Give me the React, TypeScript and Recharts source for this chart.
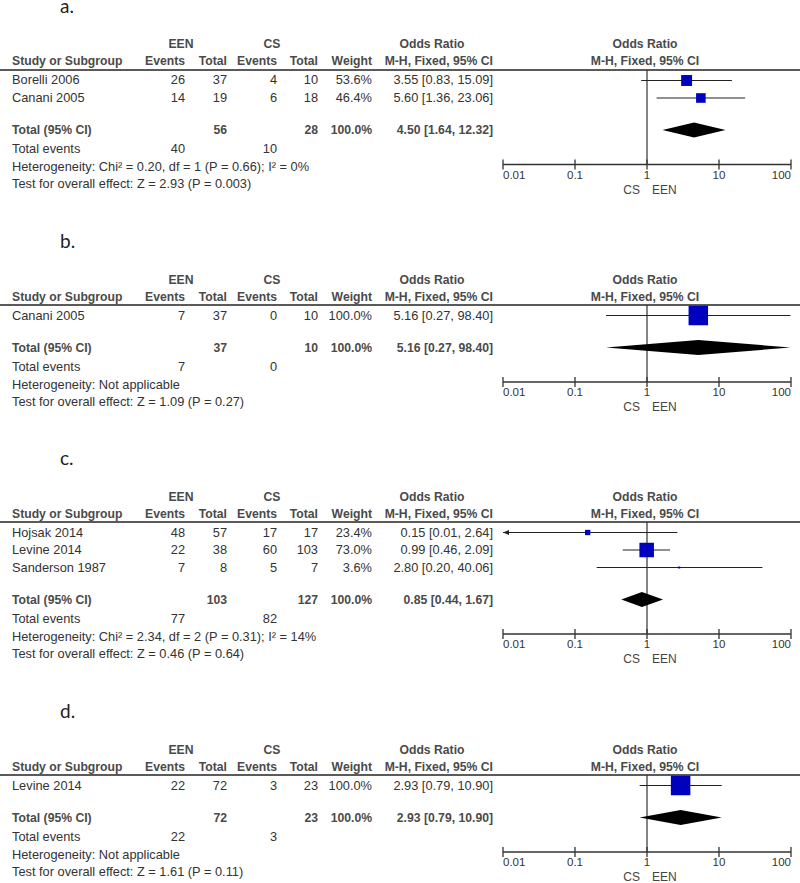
import React from 'react';
import { ComposedChart, XAxis, YAxis, ReferenceLine, Scatter } from 'recharts';

type Study = {
  study: string;
  eenEvents: number;
  eenTotal: number;
  csEvents: number;
  csTotal: number;
  weight: number;
  or: number;
  lo: number;
  hi: number;
};

type Pooled = {
  eenEvents: number;
  eenTotal: number;
  csEvents: number;
  csTotal: number;
  weight: number;
  or: number;
  lo: number;
  hi: number;
};

// panel a.
const STUDIES_A: Study[] = [
  { study: 'Borelli 2006', eenEvents: 26, eenTotal: 37, csEvents: 4, csTotal: 10, weight: 53.6, or: 3.55, lo: 0.83, hi: 15.09 },
  { study: 'Canani 2005', eenEvents: 14, eenTotal: 19, csEvents: 6, csTotal: 18, weight: 46.4, or: 5.6, lo: 1.36, hi: 23.06 },
];
const POOLED_A: Pooled = { eenEvents: 40, eenTotal: 56, csEvents: 10, csTotal: 28, weight: 100, or: 4.5, lo: 1.64, hi: 12.32 };
const HET_A = 'Chi² = 0.20, df = 1 (P = 0.66); I² = 0%';
const EFFECT_A = 'Z = 2.93 (P = 0.003)';

// panel b.
const STUDIES_B: Study[] = [
  { study: 'Canani 2005', eenEvents: 7, eenTotal: 37, csEvents: 0, csTotal: 10, weight: 100, or: 5.16, lo: 0.27, hi: 98.4 },
];
const POOLED_B: Pooled = { eenEvents: 7, eenTotal: 37, csEvents: 0, csTotal: 10, weight: 100, or: 5.16, lo: 0.27, hi: 98.4 };
const HET_B = 'Not applicable';
const EFFECT_B = 'Z = 1.09 (P = 0.27)';

// panel c.
const STUDIES_C: Study[] = [
  { study: 'Hojsak 2014', eenEvents: 48, eenTotal: 57, csEvents: 17, csTotal: 17, weight: 23.4, or: 0.15, lo: 0.01, hi: 2.64 },
  { study: 'Levine 2014', eenEvents: 22, eenTotal: 38, csEvents: 60, csTotal: 103, weight: 73.0, or: 0.99, lo: 0.46, hi: 2.09 },
  { study: 'Sanderson 1987', eenEvents: 7, eenTotal: 8, csEvents: 5, csTotal: 7, weight: 3.6, or: 2.8, lo: 0.2, hi: 40.06 },
];
const POOLED_C: Pooled = { eenEvents: 77, eenTotal: 103, csEvents: 82, csTotal: 127, weight: 100, or: 0.85, lo: 0.44, hi: 1.67 };
const HET_C = 'Chi² = 2.34, df = 2 (P = 0.31); I² = 14%';
const EFFECT_C = 'Z = 0.46 (P = 0.64)';

// panel d.
const STUDIES_D: Study[] = [
  { study: 'Levine 2014', eenEvents: 22, eenTotal: 72, csEvents: 3, csTotal: 23, weight: 100, or: 2.93, lo: 0.79, hi: 10.9 },
];
const POOLED_D: Pooled = { eenEvents: 22, eenTotal: 72, csEvents: 3, csTotal: 23, weight: 100, or: 2.93, lo: 0.79, hi: 10.9 };
const HET_D = 'Not applicable';
const EFFECT_D = 'Z = 1.61 (P = 0.11)';

const X_TICKS = [0.01, 0.1, 1, 10, 100];

// layout
const W = 800;
const ROW = 17.5;
const FIRST = 10.5;
const TOTAL_GAP = 32;
const AXIS_GAP = 34.5;
const DIAMOND_HALF = 7.5;
const CHART_LEFT = 493;
const CHART_WIDTH = 305;

const BODY = '#333';
const HEAD = '#4a4a4a';
const BLUE = '#0000BF';
const FONT = '"Liberation Sans", Arial, sans-serif';

const fmtOR = (or: number, lo: number, hi: number) =>
  `${or.toFixed(2)} [${lo.toFixed(2)}, ${hi.toFixed(2)}]`;

function Txt({
  x,
  y,
  align = 'left',
  bold = false,
  children,
}: {
  x: number;
  y: number;
  align?: 'left' | 'right' | 'center';
  bold?: boolean;
  children: React.ReactNode;
}) {
  const style: React.CSSProperties = {
    position: 'absolute',
    top: y - 9,
    height: 18,
    lineHeight: '18px',
    whiteSpace: 'nowrap',
    fontSize: bold ? 12.2 : 12.8,
    fontWeight: bold ? 700 : 400,
    color: bold ? HEAD : BODY,
  };
  if (align === 'left') style.left = x;
  else if (align === 'right') style.right = W - x;
  else {
    style.left = x - 150;
    style.width = 300;
    style.textAlign = 'center';
  }
  return <div style={style}>{children}</div>;
}

function ForestTick(props: any) {
  const { x, y, payload, index } = props;
  const anchor = index === 0 ? 'start' : index === X_TICKS.length - 1 ? 'end' : 'middle';
  return (
    <g>
      <line x1={x} x2={x} y1={y - 5} y2={y + 5} stroke="#333" strokeWidth={1.3} />
      <text x={x} y={y + 14} textAnchor={anchor} fontSize={11.5} fill="#333" stroke="none" fontFamily={FONT}>
        {String(payload.value)}
      </text>
    </g>
  );
}

function Caption(props: any) {
  const vb = props.viewBox;
  const y = vb.y + vb.height + 29;
  return (
    <g fontFamily={FONT} fontSize={12} fill="#444">
      <text x={vb.x - 7} y={y} textAnchor="end">CS</text>
      <text x={vb.x + 5} y={y} textAnchor="start">EEN</text>
    </g>
  );
}

function Square(props: any) {
  const { cx, cy, payload } = props;
  const s = Math.max(2, payload.weight * 0.185 + 1);
  return <rect x={cx - s / 2} y={cy - s / 2} width={s} height={s} fill={BLUE} />;
}

function Arrow(props: any) {
  const { cx, cy } = props;
  return <polygon points={`${cx},${cy} ${cx + 6},${cy - 2.5} ${cx + 6},${cy + 2.5}`} fill="#222" />;
}

const Nothing = () => <g />;

function Diamond(props: any) {
  const pts = (props.points || []).map((p: any) => `${p.x},${p.y}`).join(' ');
  return <polygon points={pts} fill="#000" stroke="none" />;
}

function Panel({
  label,
  base,
  studies,
  pooled,
  het,
  effect,
}: {
  label: string;
  base: number;
  studies: Study[];
  pooled: Pooled;
  het: string;
  effect: string;
}) {
  const n = studies.length;
  const rowY = (i: number) => FIRST + i * ROW;
  const totalY = rowY(n - 1) + TOTAL_GAP;
  const plotH = totalY + AXIS_GAP;
  const xMin = X_TICKS[0];

  const squares = studies.map((s, i) => ({ x: s.or, y: rowY(i), weight: s.weight }));
  const arrows = studies
    .map((s, i) => ({ x: xMin, y: rowY(i), clipped: s.lo <= xMin }))
    .filter((d) => d.clipped);
  const diamond = [
    { x: pooled.lo, y: totalY },
    { x: pooled.or, y: totalY - DIAMOND_HALF },
    { x: pooled.hi, y: totalY },
    { x: pooled.or, y: totalY + DIAMOND_HALF },
  ];

  const h1 = base - 25.5;
  const h2 = base - 8.5;
  const ty = base + totalY;

  return (
    <>
      <div
        style={{
          position: 'absolute',
          left: 60,
          top: base - 76,
          fontFamily: 'Lato, "Open Sans", sans-serif',
          fontSize: 19,
          lineHeight: '24px',
          color: '#222',
        }}
      >
        {label}
      </div>

      {/* header */}
      <Txt x={181} y={h1} align="center" bold>EEN</Txt>
      <Txt x={272} y={h1} align="center" bold>CS</Txt>
      <Txt x={432} y={h1} align="center" bold>Odds Ratio</Txt>
      <Txt x={645} y={h1} align="center" bold>Odds Ratio</Txt>
      <Txt x={12} y={h2} bold>Study or Subgroup</Txt>
      <Txt x={185} y={h2} align="right" bold>Events</Txt>
      <Txt x={227} y={h2} align="right" bold>Total</Txt>
      <Txt x={277} y={h2} align="right" bold>Events</Txt>
      <Txt x={318} y={h2} align="right" bold>Total</Txt>
      <Txt x={372} y={h2} align="right" bold>Weight</Txt>
      <Txt x={493} y={h2} align="right" bold>M-H, Fixed, 95% CI</Txt>
      <Txt x={645} y={h2} align="center" bold>M-H, Fixed, 95% CI</Txt>
      <div style={{ position: 'absolute', left: 0, top: base - 1, width: W, height: 2, background: '#5a5a5a' }} />

      {/* study rows */}
      {studies.map((s, i) => {
        const y = base + rowY(i);
        return (
          <React.Fragment key={s.study}>
            <Txt x={12} y={y}>{s.study}</Txt>
            <Txt x={185} y={y} align="right">{s.eenEvents}</Txt>
            <Txt x={227} y={y} align="right">{s.eenTotal}</Txt>
            <Txt x={277} y={y} align="right">{s.csEvents}</Txt>
            <Txt x={318} y={y} align="right">{s.csTotal}</Txt>
            <Txt x={372} y={y} align="right">{s.weight.toFixed(1)}%</Txt>
            <Txt x={493} y={y} align="right">{fmtOR(s.or, s.lo, s.hi)}</Txt>
          </React.Fragment>
        );
      })}

      {/* totals */}
      <Txt x={12} y={ty} bold>Total (95% CI)</Txt>
      <Txt x={227} y={ty} align="right" bold>{pooled.eenTotal}</Txt>
      <Txt x={318} y={ty} align="right" bold>{pooled.csTotal}</Txt>
      <Txt x={372} y={ty} align="right" bold>{pooled.weight.toFixed(1)}%</Txt>
      <Txt x={493} y={ty} align="right" bold>{fmtOR(pooled.or, pooled.lo, pooled.hi)}</Txt>
      <Txt x={12} y={ty + 19.5}>Total events</Txt>
      <Txt x={185} y={ty + 19.5} align="right">{pooled.eenEvents}</Txt>
      <Txt x={277} y={ty + 19.5} align="right">{pooled.csEvents}</Txt>
      <Txt x={12} y={ty + 37}>Heterogeneity: {het}</Txt>
      <Txt x={12} y={ty + 54.5}>Test for overall effect: {effect}</Txt>

      {/* forest plot */}
      <div style={{ position: 'absolute', left: CHART_LEFT, top: base }}>
        <ComposedChart
          width={CHART_WIDTH}
          height={plotH + 40}
          margin={{ top: 0, right: 7, left: 10, bottom: 0 }}
        >
          <XAxis
            type="number"
            dataKey="x"
            scale="log"
            domain={[0.01, 100]}
            ticks={X_TICKS}
            allowDataOverflow
            height={40}
            tickSize={0}
            tickMargin={0}
            tickLine={false}
            axisLine={{ stroke: '#333', strokeWidth: 1.5 }}
            tick={<ForestTick />}
            interval={0}
          />
          <YAxis type="number" dataKey="y" domain={[0, plotH]} reversed hide allowDataOverflow />
          <ReferenceLine x={1} stroke="#333" strokeWidth={1.2} label={{ content: <Caption /> }} />
          {studies.map((s, i) => (
            <ReferenceLine
              key={s.study}
              segment={[
                { x: Math.max(s.lo, xMin), y: rowY(i) },
                { x: s.hi, y: rowY(i) },
              ]}
              stroke="#222"
              strokeWidth={1.2}
              ifOverflow="visible"
            />
          ))}
          <Scatter data={squares} shape={<Square />} isAnimationActive={false} />
          <Scatter data={arrows} shape={<Arrow />} isAnimationActive={false} />
          <Scatter data={diamond} shape={<Nothing />} line={Diamond} isAnimationActive={false} />
        </ComposedChart>
      </div>
    </>
  );
}

const PANEL_BASES = [69.5, 305, 522, 775];

export default function App() {
  return (
    <div
      style={{
        position: 'absolute',
        left: 0,
        top: 0,
        width: W,
        height: 883,
        background: '#fff',
        fontFamily: FONT,
        overflow: 'hidden',
      }}
    >
      <Panel label="a." base={PANEL_BASES[0]} studies={STUDIES_A} pooled={POOLED_A} het={HET_A} effect={EFFECT_A} />
      <Panel label="b." base={PANEL_BASES[1]} studies={STUDIES_B} pooled={POOLED_B} het={HET_B} effect={EFFECT_B} />
      <Panel label="c." base={PANEL_BASES[2]} studies={STUDIES_C} pooled={POOLED_C} het={HET_C} effect={EFFECT_C} />
      <Panel label="d." base={PANEL_BASES[3]} studies={STUDIES_D} pooled={POOLED_D} het={HET_D} effect={EFFECT_D} />
    </div>
  );
}
